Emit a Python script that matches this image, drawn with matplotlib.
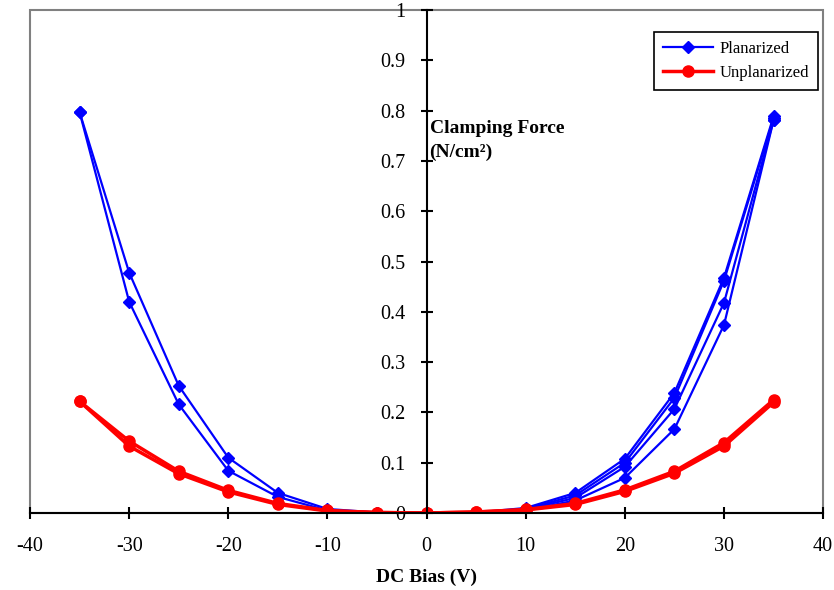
import numpy as np
import matplotlib.pyplot as plt
from matplotlib.patches import Rectangle

plt.rcParams["font.family"] = ["Liberation Serif", "DejaVu Serif"]
plt.rcParams["axes.unicode_minus"] = False

# DC bias sweep points (V)
bias_full = [-35, -30, -25, -20, -15, -10, -5, 0, 5, 10, 15, 20, 25, 30, 35]
bias_pos = [0, 5, 10, 15, 20, 25, 30, 35]

# Planarized wafer clamping force (N/cm^2)
plan_1 = [0.797, 0.478, 0.253, 0.110, 0.040, 0.008, 0.001, 0.0, 0.001, 0.010, 0.040, 0.108, 0.239, 0.468, 0.789]
plan_2 = [0.797, 0.420, 0.216, 0.084, 0.032, 0.005, 0.001, 0.0, 0.001, 0.008, 0.035, 0.100, 0.229, 0.462, 0.785]
plan_3 = [0.0, 0.001, 0.007, 0.030, 0.092, 0.207, 0.418, 0.781]
plan_4 = [0.0, 0.001, 0.005, 0.025, 0.070, 0.167, 0.374, 0.781]

# Unplanarized wafer clamping force (N/cm^2)
unplan_1 = [0.222, 0.143, 0.083, 0.045, 0.019, 0.005, 0.001, 0.0, 0.002, 0.007, 0.019, 0.046, 0.083, 0.140, 0.225]
unplan_2 = [0.222, 0.133, 0.078, 0.042, 0.017, 0.004, 0.001, 0.0, 0.002, 0.006, 0.017, 0.043, 0.079, 0.133, 0.220]

fig = plt.figure(figsize=(8.34, 5.90), dpi=100)
ax = fig.add_axes([0.036, 0.1305, 0.951, 0.8525])

blue_kw = dict(color="#0000ff", marker="D", markersize=6.5, linewidth=1.6)
red_kw = dict(color="#ff0000", marker="o", markersize=8, linewidth=2.5)

ax.plot(bias_full, plan_1, label="Planarized", **blue_kw)
ax.plot(bias_full, plan_2, **blue_kw)
ax.plot(bias_pos, plan_3, **blue_kw)
ax.plot(bias_pos, plan_4, **blue_kw)
ax.plot(bias_full, unplan_1, label="Unplanarized", **red_kw)
ax.plot(bias_full, unplan_2, **red_kw)

ax.set_xlim(-40, 40)
ax.set_ylim(0, 1)
ax.set_xticks(np.arange(-40, 41, 10))
ax.set_yticks(np.arange(0, 1.01, 0.1))
ax.set_yticklabels(["0", "0.1", "0.2", "0.3", "0.4", "0.5", "0.6", "0.7", "0.8", "0.9", "1"])

# y axis through zero, grey frame around plot area
ax.spines["left"].set_position(("data", 0))
ax.spines["right"].set_visible(False)
ax.spines["top"].set_visible(False)
ax.spines["left"].set_linewidth(1.5)
ax.spines["bottom"].set_linewidth(1.5)
ax.add_patch(Rectangle((0, 0), 1, 1, transform=ax.transAxes, fill=False,
                       edgecolor="#808080", linewidth=1.5, clip_on=False, zorder=0))

ax.tick_params(axis="both", direction="inout", length=9, width=1.5, labelsize=14.5)
ax.tick_params(axis="y", pad=11)
ax.tick_params(axis="x", pad=13)

ax.text(0.3, 0.741, "Clamping Force\n(N/cm\u00b2)", fontsize=14, fontweight="bold",
        ha="left", va="center", linespacing=1.55)
ax.set_xlabel("DC Bias (V)", fontsize=14, fontweight="bold", labelpad=9)

leg = ax.legend(loc="upper right", bbox_to_anchor=(0.994, 0.956), borderaxespad=0,
                fontsize=12, frameon=True, fancybox=False, edgecolor="black",
                framealpha=1, borderpad=0.55, handlelength=3.0, handletextpad=0.4,
                labelspacing=0.45)
leg.get_frame().set_linewidth(1.2)

fig.savefig("out.png", dpi=100)
